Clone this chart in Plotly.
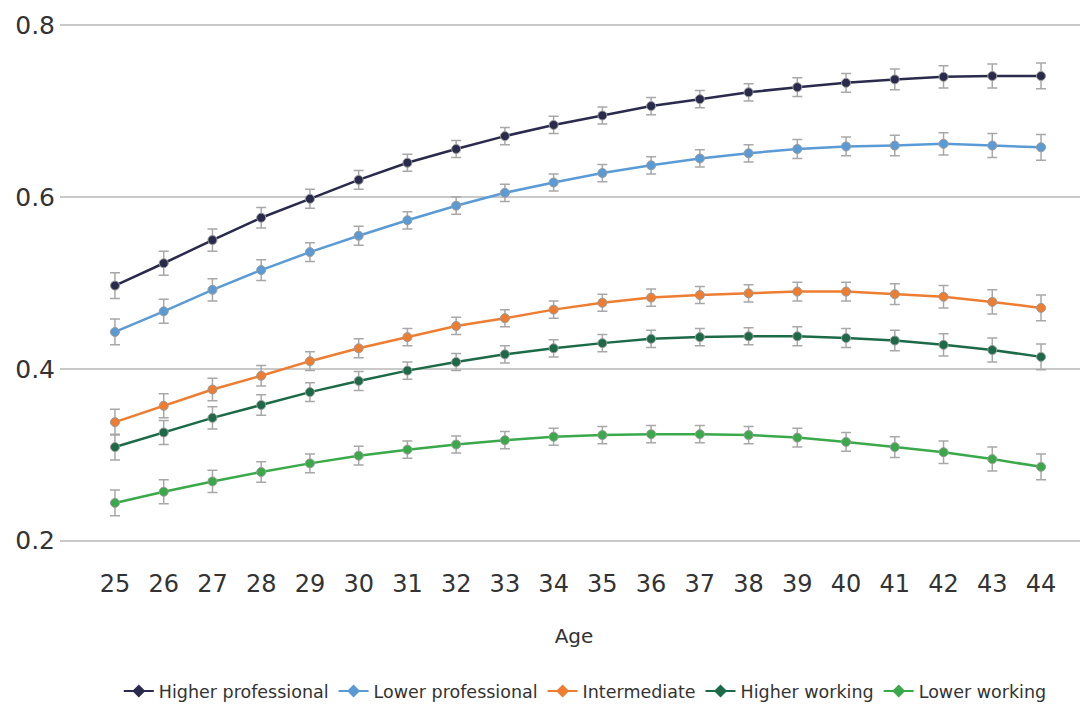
import plotly.graph_objects as go

ages = list(range(25, 45))

higher_prof = [0.497, 0.523, 0.550, 0.576, 0.598, 0.620, 0.640, 0.656, 0.671, 0.684,
               0.695, 0.706, 0.714, 0.722, 0.728, 0.733, 0.737, 0.740, 0.741, 0.741]
lower_prof = [0.443, 0.467, 0.492, 0.515, 0.536, 0.555, 0.573, 0.590, 0.605, 0.617,
              0.628, 0.637, 0.645, 0.651, 0.656, 0.659, 0.660, 0.662, 0.660, 0.658]
intermediate = [0.338, 0.357, 0.376, 0.392, 0.409, 0.424, 0.437, 0.450, 0.459, 0.469,
                0.477, 0.483, 0.486, 0.488, 0.490, 0.490, 0.487, 0.484, 0.478, 0.471]
higher_work = [0.309, 0.326, 0.343, 0.358, 0.373, 0.386, 0.398, 0.408, 0.417, 0.424,
               0.430, 0.435, 0.437, 0.438, 0.438, 0.436, 0.433, 0.428, 0.422, 0.414]
lower_work = [0.244, 0.257, 0.269, 0.280, 0.290, 0.299, 0.306, 0.312, 0.317, 0.321,
              0.323, 0.324, 0.324, 0.323, 0.320, 0.315, 0.309, 0.303, 0.295, 0.286]

err = [0.015, 0.014, 0.013, 0.012, 0.011, 0.011, 0.010, 0.010, 0.010, 0.010,
       0.010, 0.010, 0.010, 0.010, 0.011, 0.011, 0.012, 0.013, 0.014, 0.015]

series_names = ["Higher professional", "Lower professional", "Intermediate",
                "Higher working", "Lower working"]
series_values = [higher_prof, lower_prof, intermediate, higher_work, lower_work]
colors = ["#2a2b4c", "#5b9bd5", "#ed7d31", "#1d6a48", "#3aa94a"]

FONT = "DejaVu Sans, Liberation Sans, Arial, sans-serif"

fig = go.Figure()
for name, vals, c in zip(series_names, series_values, colors):
    fig.add_trace(go.Scatter(
        x=ages, y=vals, mode="lines+markers", name=name, showlegend=False,
        line=dict(color=c, width=2.5),
        marker=dict(symbol="circle", size=9, color=c, line=dict(color="#9a9a9a", width=1)),
        error_y=dict(type="data", array=err, color="#a8a8a8", thickness=1.5, width=5),
    ))
    fig.add_trace(go.Scatter(
        x=[None], y=[None], mode="lines+markers", name=name, showlegend=True,
        line=dict(color=c, width=2),
        marker=dict(symbol="diamond", size=10, color=c),
    ))

fig.update_layout(
    width=1080, height=696,
    margin=dict(l=52, r=0, t=13, b=159, autoexpand=False),
    paper_bgcolor="white", plot_bgcolor="white",
    font=dict(family=FONT, color="#333333"),
    xaxis=dict(
        range=[23.872, 44.964], tickmode="array", tickvals=ages,
        ticktext=[str(a) for a in ages], showgrid=False, zeroline=False,
        showline=False, tickfont=dict(size=24, color="#333333"),
        ticklabelstandoff=22,
        title=dict(text="Age", font=dict(size=20, color="#333333"), standoff=31),
    ),
    yaxis=dict(
        range=[0.195, 0.805], tickvals=[0.2, 0.4, 0.6, 0.8],
        ticktext=["0.2", "0.4", "0.6", "0.8"],
        showgrid=True, gridcolor="#c9c9c9", gridwidth=2, zeroline=False,
        showline=False, tickfont=dict(size=25, color="#333333"),
        ticklabelstandoff=4,
    ),
    legend=dict(
        orientation="h", x=0.511, xanchor="center", y=-0.279, yanchor="middle",
        font=dict(size=17.5, color="#333333"), itemwidth=30, tracegroupgap=0,
    ),
)

fig.write_html("out.html")
